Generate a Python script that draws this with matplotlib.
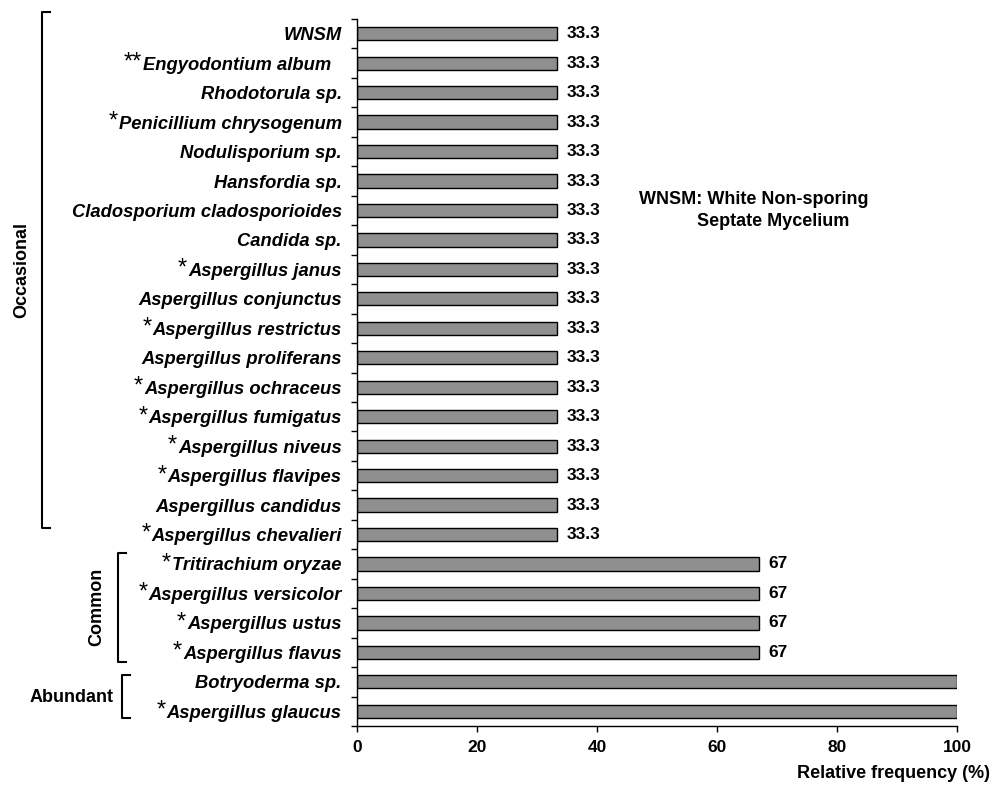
import numpy as np
import matplotlib
matplotlib.use('Agg')
import matplotlib.pyplot as plt
from matplotlib.lines import Line2D

plt.rcParams['font.family'] = ['Liberation Sans', 'DejaVu Sans']

# top to bottom, as in the figure
species = ["WNSM", "Engyodontium album  ", "Rhodotorula sp.", "Penicillium chrysogenum",
           "Nodulisporium sp.", "Hansfordia sp.", "Cladosporium cladosporioides", "Candida sp.",
           "Aspergillus janus", "Aspergillus conjunctus", "Aspergillus restrictus",
           "Aspergillus proliferans", "Aspergillus ochraceus", "Aspergillus fumigatus",
           "Aspergillus niveus", "Aspergillus flavipes", "Aspergillus candidus",
           "Aspergillus chevalieri", "Tritirachium oryzae", "Aspergillus versicolor",
           "Aspergillus ustus", "Aspergillus flavus", "Botryoderma sp.", "Aspergillus glaucus"]
stars = [0, 2, 0, 1, 0, 0, 0, 0, 1, 0, 1, 0, 1, 1, 1, 1, 0, 1, 1, 1, 1, 1, 0, 1]
freq = [33.3] * 18 + [67] * 4 + [100] * 2
freq_labels = ["33.3"] * 18 + ["67"] * 4 + [""] * 2

W, H = 1003, 785
fig = plt.figure(figsize=(W / 100, H / 100), dpi=100)
ax = fig.add_axes([357 / W, 1 - 726 / H, 600 / W, 707 / H])

n = len(species)
ypos = np.arange(n)[::-1]
ax.barh(ypos, freq, height=0.45, color='#8f8f8f', edgecolor='black', linewidth=1)
for y, v, lab in zip(ypos, freq, freq_labels):
    if lab:
        ax.text(v + 1.6, y, lab, va='center', ha='left', fontsize=12.5, fontweight='bold')

ax.set_xlim(0, 100)
ax.set_ylim(-0.5, n - 0.5)
ax.set_xticks([0, 20, 40, 60, 80, 100])
ax.set_yticks(ypos)
ax.set_yticklabels(species, fontsize=13.2, fontweight='bold', fontstyle='italic')
ax.set_yticks(np.arange(n + 1) - 0.5, minor=True)
ax.tick_params(axis='y', which='major', length=0, pad=11)
ax.tick_params(axis='y', which='minor', length=4, width=1, direction='out')
ax.tick_params(axis='x', length=4, width=1, direction='out', labelsize=12.5, pad=6)
for t in ax.get_xticklabels():
    t.set_fontweight('bold')
for s in ['top', 'right']:
    ax.spines[s].set_visible(False)
for s in ['left', 'bottom']:
    ax.spines[s].set_linewidth(1)


def px(x, y):
    return x / W, 1 - y / H


fig.text(*px(990, 773), "Relative frequency (%)", ha='right', va='center',
         fontsize=13, fontweight='bold')
fig.text(*px(639, 200), "WNSM: White Non-sporing", ha='left', va='center',
         fontsize=13, fontweight='bold')
fig.text(*px(697, 221), "Septate Mycelium", ha='left', va='center',
         fontsize=13, fontweight='bold')


def bracket(x, y0, y1, arm=8):
    xs = [x + arm, x, x, x + arm]
    ys = [y0, y0, y1, y1]
    pts = [px(a, b) for a, b in zip(xs, ys)]
    fig.add_artist(Line2D([p[0] for p in pts], [p[1] for p in pts],
                          transform=fig.transFigure, color='black', lw=1.5))


bracket(42, 12, 528)
fig.text(*px(22, 270), "Occasional", rotation=90, ha='center', va='center',
         fontsize=13, fontweight='bold')
bracket(118, 553, 662)
fig.text(*px(97, 607), "Common", rotation=90, ha='center', va='center',
         fontsize=13, fontweight='bold')
bracket(122, 675, 718)
fig.text(*px(114, 697), "Abundant", ha='right', va='center',
         fontsize=13, fontweight='bold')

# asterisks in front of the species names
fig.canvas.draw()
r = fig.canvas.get_renderer()
for lab in ax.get_yticklabels():
    k = stars[species.index(lab.get_text())]
    if k == 0:
        continue
    bb = lab.get_window_extent(r)
    fig.text((bb.x0 - 1) / W, (bb.y1 + 5) / H, "*" * k, ha='right', va='top',
             fontsize=17)

fig.savefig("out.png", dpi=100)
